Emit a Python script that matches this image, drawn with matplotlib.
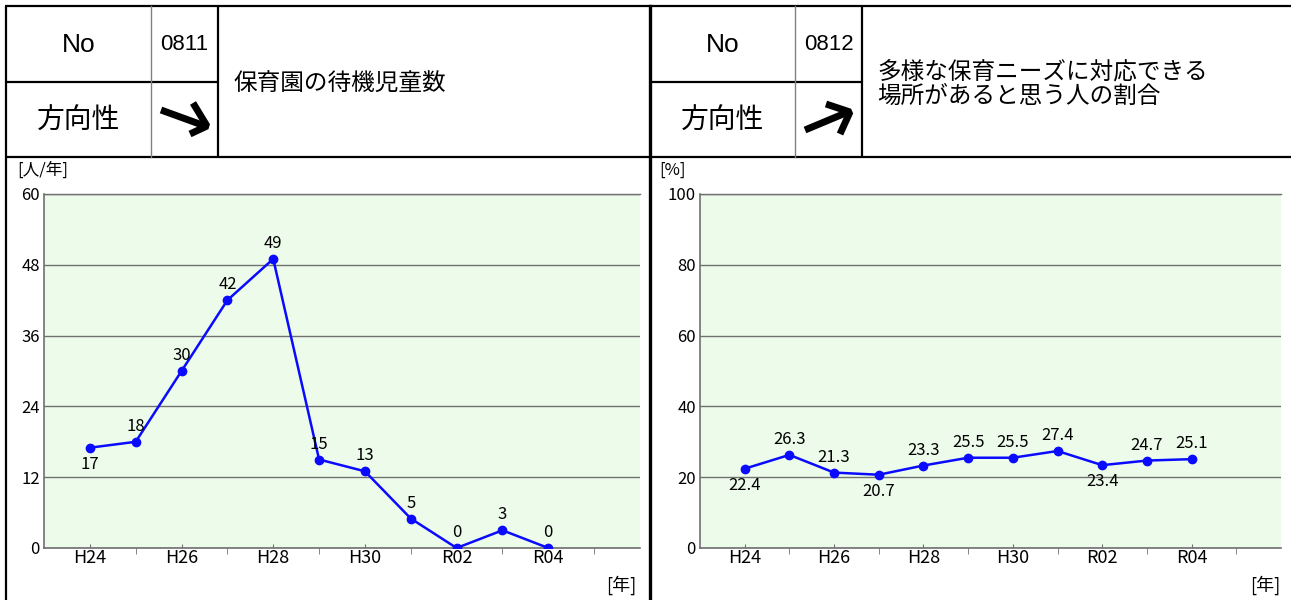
#!/usr/bin/env python
# -*- coding: utf-8 -*-
# Two indicator cards: header table + small line chart each

import matplotlib
matplotlib.use('Agg')
import matplotlib.pyplot as plt
import numpy as np

plt.rcParams['font.family'] = ['Noto Sans CJK JP', 'DejaVu Sans']

# data
years = ['H24', 'H25', 'H26', 'H27', 'H28', 'H29', 'H30',
         'R01', 'R02', 'R03', 'R04']
year_labels = ['H24', 'H26', 'H28', 'H30', 'R02', 'R04']

waiting_children = [17, 18, 30, 42, 49, 15, 13, 5, 0, 3, 0]
waiting_below = [True, False, False, False, False, False,
                 False, False, False, False, False]

support_share = [22.4, 26.3, 21.3, 20.7, 23.3, 25.5, 25.5, 27.4, 23.4,
                 24.7, 25.1]
share_below = [True, False, False, True, False, False, False, False, True,
               False, False]

left_no = '0811'
left_title = '保育園の待機児童数'
right_no = '0812'
right_title = '多様な保育ニーズに対応できる\n場所があると思う人の割合'

W, H = 1291, 600
BG = '#edfcea'
GRID = '#707070'
LINE = '#0a0aff'


def arrow(ax, shaft, head):
    '''Thick open arrow drawn as two strokes (pixel coords)'''
    k = dict(color='black', lw=5.0, solid_capstyle='butt',
             solid_joinstyle='bevel')
    ax.plot(*zip(*shaft), **k)
    ax.plot(*zip(*head), **k)


def header(ax, x0, x1, x2, no, title):
    '''Draw one header block in pixel coordinates'''
    k = dict(color='black', lw=1.6, solid_capstyle='butt')
    ax.plot([x0, x2], [82, 82], **k)
    ax.plot([x1, x1], [6, 157], color='#808080', lw=1.0)
    ax.plot([x2, x2], [6, 157], **k)
    ax.text((x0 + x1) / 2, 45, 'No', ha='center', va='center',
            fontsize=19, family=['Liberation Sans'])
    ax.text((x1 + x2) / 2, 44, no, ha='center', va='center',
            fontsize=16, family=['Liberation Sans'])
    ax.text((x0 + x1) / 2, 121, '方向性', ha='center', va='center',
            fontsize=20)
    ax.text(x2 + 15, 84, title, ha='left', va='center', fontsize=17,
            linespacing=1.05)


def chart(fig, rect, values, below, ymax, ystep, fmt):
    ax = fig.add_axes(rect)
    x = np.arange(len(values))
    ax.set_facecolor(BG)
    ax.plot(x, values, color=LINE, lw=1.8, marker='o', markersize=6,
            zorder=3)
    for xi, v, b in zip(x, values, below):
        if b:
            ax.annotate(fmt.format(v), (xi, v), xytext=(0, -6),
                        textcoords='offset points', ha='center', va='top',
                        fontsize=12)
        else:
            ax.annotate(fmt.format(v), (xi, v), xytext=(0, 5),
                        textcoords='offset points', ha='center',
                        va='bottom', fontsize=12)
    ax.set_xlim(-1, 12)
    ax.set_ylim(0, ymax)
    ax.set_yticks(np.arange(0, ymax + 1, ystep))
    ax.set_xticks(np.arange(0, 11, 2))
    ax.set_xticklabels(year_labels, fontsize=13)
    ax.set_xticks(np.arange(1, 12, 2), minor=True)
    ax.tick_params(axis='x', which='major', direction='in', length=3,
                   color=GRID, pad=1)
    ax.tick_params(axis='x', which='minor', direction='out', length=4,
                   color=GRID)
    ax.tick_params(axis='y', length=0, pad=3, labelsize=12)
    ax.grid(axis='y', color=GRID, lw=1.0)
    ax.set_axisbelow(True)
    for s in ['left', 'bottom', 'top']:
        ax.spines[s].set_color(GRID)
        ax.spines[s].set_linewidth(1.2)
    ax.spines['right'].set_visible(False)
    ax.spines['top'].set_linewidth(1.0)
    return ax


#
# Entry point
#
def main():
    fig = plt.figure(figsize=(W / 100, H / 100), dpi=100)

    # frame / header layer in pixels
    frame = fig.add_axes([0, 0, 1, 1])
    frame.set_xlim(0, W)
    frame.set_ylim(H, 0)
    frame.axis('off')

    k = dict(color='black', lw=1.6, solid_capstyle='butt')
    frame.plot([5, W], [6, 6], **k)
    frame.plot([5, W], [157, 157], **k)
    frame.plot([6, 6], [6, H], **k)
    frame.plot([650, 650], [6, H], color='black', lw=2.4)

    header(frame, 6, 151, 218, left_no, left_title)
    header(frame, 650, 795, 862, right_no, right_title)

    # direction arrows (down-right = decrease is good, up-right = increase)
    arrow(frame, [(161, 110), (205, 126)], [(193, 103), (207, 126), (190, 134)])
    arrow(frame, [(805, 130), (848, 112)], [(826, 104), (850, 112), (840, 134)])

    frame.text(17, 170, '[人/年]', ha='left', va='center', fontsize=12)
    frame.text(659, 170, '[%]', ha='left', va='center', fontsize=12)
    frame.text(636, 585, '[年]', ha='right', va='center', fontsize=13)
    frame.text(1280, 585, '[年]', ha='right', va='center', fontsize=13)

    chart(fig, [44 / W, 52 / H, 596 / W, 354 / H],
          waiting_children, waiting_below, 60, 12, '{:d}')
    chart(fig, [700 / W, 52 / H, 581 / W, 354 / H],
          support_share, share_below, 100, 20, '{:.1f}')

    fig.savefig('out.png', dpi=100)


if __name__ == '__main__':
    main()
